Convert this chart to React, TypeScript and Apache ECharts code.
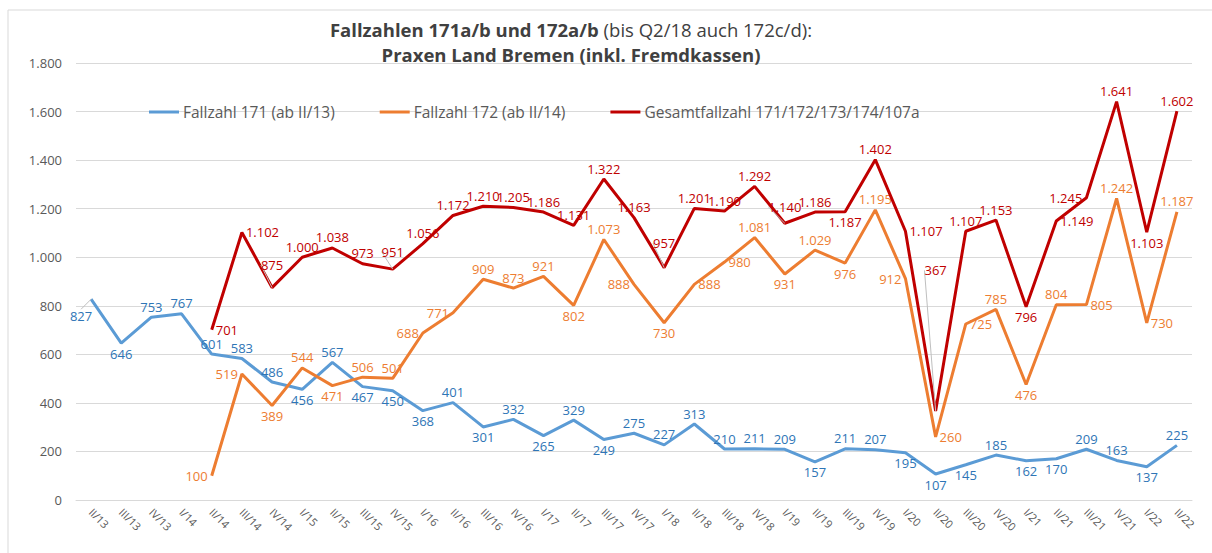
import React, { useEffect, useRef } from "react";
import * as echarts from "echarts";

const categories = [
  "II/13", "III/13", "IV/13",
  "I/14", "II/14", "III/14", "IV/14",
  "I/15", "II/15", "III/15", "IV/15",
  "I/16", "II/16", "III/16", "IV/16",
  "I/17", "II/17", "III/17", "IV/17",
  "I/18", "II/18", "III/18", "IV/18",
  "I/19", "II/19", "III/19", "IV/19",
  "I/20", "II/20", "III/20", "IV/20",
  "I/21", "II/21", "III/21", "IV/21",
  "I/22", "II/22",
];

const fallzahl171 = [
  827, 646, 753, 767, 601, 583, 486, 456, 567, 467, 450, 368, 401, 301, 332,
  265, 329, 249, 275, 227, 313, 210, 211, 209, 157, 211, 207, 195, 107, 145,
  185, 162, 170, 209, 163, 137, 225,
];

const fallzahl172 = [
  null, null, null, null,
  100, 519, 389, 544, 471, 506, 501, 688, 771, 909, 873, 921, 802, 1073, 888,
  730, 888, 980, 1081, 931, 1029, 976, 1195, 912, 260, 725, 785, 476, 804, 805,
  1242, 730, 1187,
];

const gesamt = [
  null, null, null, null,
  701, 1102, 875, 1000, 1038, 973, 951, 1056, 1172, 1210, 1205, 1186, 1131,
  1322, 1163, 957, 1201, 1190, 1292, 1140, 1186, 1187, 1402, 1107, 367, 1107,
  1153, 796, 1149, 1245, 1641, 1103, 1602,
];

// label placement codes: t = top, b = bottom, l = left, r = right
const pos171 = [
  "b", "b", "t", "t", "t", "t", "t", "b", "t", "b", "b", "b", "t", "b", "t",
  "b", "t", "b", "t", "t", "t", "t", "t", "t", "b", "t", "t", "b", "b", "b",
  "t", "b", "b", "t", "t", "b", "t",
];
const pos172 = [
  "", "", "", "",
  "l", "l", "b", "t", "b", "t", "t", "l", "l", "t", "t", "t", "b", "t", "l",
  "b", "r", "r", "t", "b", "t", "b", "t", "l", "r", "r", "t", "b", "t", "r",
  "t", "r", "t",
];
const posGes = [
  "", "", "", "",
  "r", "r", "t", "t", "t", "t", "t", "t", "t", "t", "t", "t", "t", "t", "t",
  "t", "t", "t", "t", "t", "t", "b", "t", "r", "t", "t", "t", "b", "r", "l",
  "t", "b", "t",
];

// labels that were lifted away from their point (with a thin leader line)
const liftGes: Record<number, number> = { 6: -12, 10: -7, 19: -14, 23: -6, 28: -130 };
const lift171: Record<number, number> = { 0: 6 };

const posMap: Record<string, string> = { t: "top", b: "bottom", l: "left", r: "right" };

const FONT = "'Open Sans', 'Noto Sans', sans-serif";
const LEADER = { show: true, lineStyle: { color: "#bfbfbf", width: 1 } };

function fmt(v: number): string {
  const s = String(Math.round(v));
  return s.replace(/\B(?=(\d{3})+(?!\d))/g, ".");
}

function buildData(values: (number | null)[], pos: string[], lift?: Record<number, number>) {
  return values.map((v, i) => {
    if (v === null) return null;
    const item: any = { value: v, label: { position: posMap[pos[i]] || "top" } };
    if (lift && lift[i] !== undefined) item.labelLine = LEADER;
    return item;
  });
}

export default function App() {
  const ref = useRef<HTMLDivElement>(null);

  useEffect(() => {
    document.body.style.margin = "0";
    if (!ref.current) return;
    const chart = echarts.init(ref.current, undefined, { renderer: "svg" });

    const labelBase = {
      show: true,
      fontFamily: FONT,
      fontSize: 13,
      distance: 4,
      formatter: (p: any) => fmt(p.value),
    };

    const common = {
      type: "line",
      symbol: "circle",
      symbolSize: 0,
      showSymbol: true,
      connectNulls: false,
    };

    chart.setOption({
      animation: false,
      backgroundColor: "#ffffff",
      title: {
        left: 566,
        top: 12,
        textAlign: "center",
        text:
          "{b|Fallzahlen 171a/b und 172a/b} {n|(bis Q2/18 auch 172c/d):}\n{b|Praxen Land Bremen (inkl. Fremdkassen)}",
        textStyle: {
          rich: {
            b: { fontFamily: FONT, fontSize: 18.5, fontWeight: "bold", color: "#404040", lineHeight: 25 },
            n: { fontFamily: FONT, fontSize: 18.5, fontWeight: "normal", color: "#404040", lineHeight: 25 },
          },
        },
      },
      graphic: [
        {
          type: "rect",
          shape: { x: 8, y: 10, width: 1300, height: 700 },
          style: { fill: "none", stroke: "#d9d9d9", lineWidth: 1 },
          silent: true,
          z: -10,
        },
      ],
      legend: {
        top: 99,
        left: 144,
        itemWidth: 30,
        itemHeight: 3,
        itemGap: 45,
        icon: "rect",
        textStyle: { fontFamily: FONT, fontSize: 15.5, color: "#595959", padding: [0, 0, 0, -1] },
        data: ["Fallzahl 171 (ab II/13)", "Fallzahl 172 (ab II/14)", "Gesamtfallzahl 171/172/173/174/107a"],
      },
      grid: { left: 76, right: 20, top: 63, bottom: 53, containLabel: false },
      xAxis: {
        type: "category",
        data: categories,
        boundaryGap: true,
        axisLine: { show: true, lineStyle: { color: "#d9d9d9" } },
        axisTick: { show: false },
        axisLabel: {
          rotate: -45,
          interval: 0,
          fontFamily: FONT,
          fontSize: 11,
          color: "#595959",
          margin: 10,
        },
      },
      yAxis: {
        type: "value",
        min: 0,
        max: 1800,
        interval: 200,
        axisLine: { show: false },
        axisTick: { show: false },
        splitLine: { lineStyle: { color: "#d9d9d9", width: 1 } },
        axisLabel: {
          fontFamily: FONT,
          fontSize: 13,
          color: "#595959",
          margin: 14,
          formatter: (v: number) => fmt(v),
        },
      },
      series: [
        {
          ...common,
          name: "Fallzahl 171 (ab II/13)",
          data: buildData(fallzahl171, pos171, lift171),
          lineStyle: { color: "#5B9BD5", width: 3 },
          itemStyle: { color: "#5B9BD5" },
          label: { ...labelBase, color: "#2E75B6" },
          labelLine: { show: false },
          labelLayout: (p: any) => (lift171[p.dataIndex] !== undefined ? { dx: -10, dy: lift171[p.dataIndex] } : {}),
          z: 3,
        },
        {
          ...common,
          name: "Fallzahl 172 (ab II/14)",
          data: buildData(fallzahl172, pos172),
          lineStyle: { color: "#ED7D31", width: 3 },
          itemStyle: { color: "#ED7D31" },
          label: { ...labelBase, color: "#ED7D31" },
          labelLine: { show: false },
          z: 3,
        },
        {
          ...common,
          name: "Gesamtfallzahl 171/172/173/174/107a",
          data: buildData(gesamt, posGes, liftGes),
          lineStyle: { color: "#C00000", width: 3 },
          itemStyle: { color: "#C00000" },
          label: { ...labelBase, color: "#C00000" },
          labelLine: { show: false },
          labelLayout: (p: any) => (liftGes[p.dataIndex] !== undefined ? { dy: liftGes[p.dataIndex] } : {}),
          z: 4,
        },
      ],
    });

    return () => chart.dispose();
  }, []);

  return <div ref={ref} style={{ width: 1212, height: 553 }} />;
}
